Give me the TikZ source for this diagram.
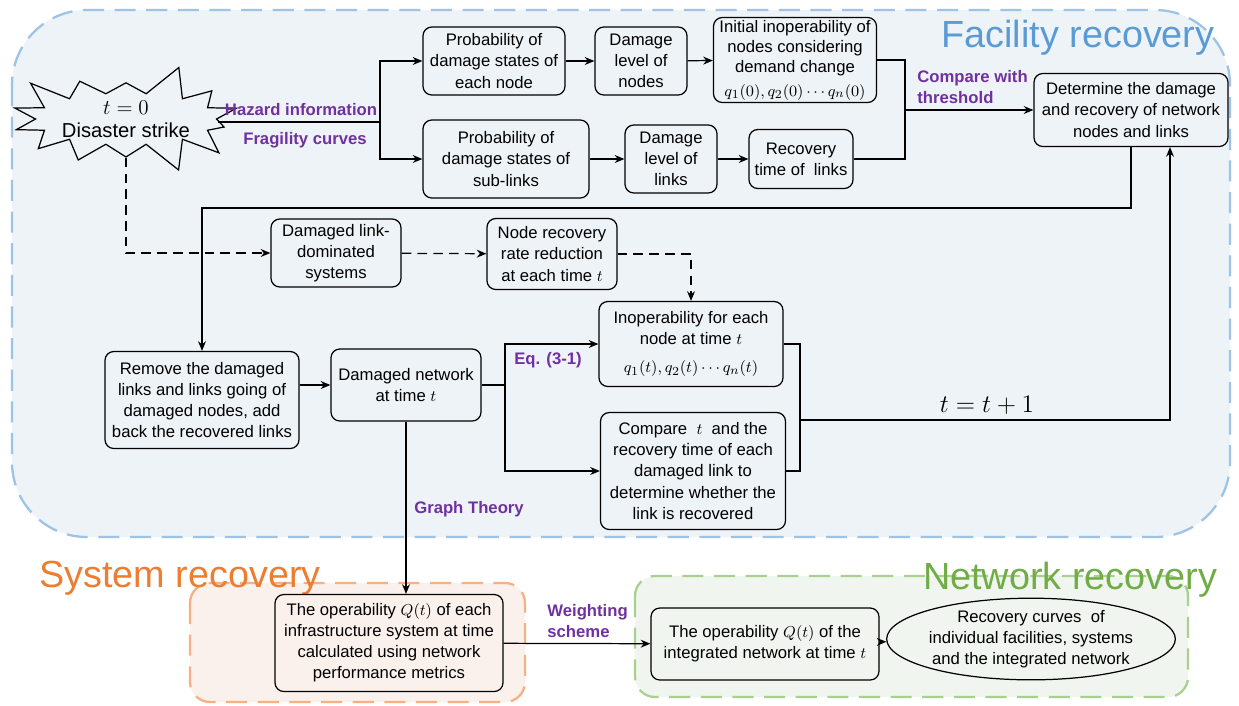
\documentclass[tikz,border=0pt]{standalone}
\usepackage{fontspec}
\setmainfont{Liberation Sans}
\usetikzlibrary{arrows.meta,shapes.symbols,shapes.geometric}
\definecolor{facfill}{HTML}{EEF3F8}
\definecolor{facline}{HTML}{9DC3E6}
\definecolor{facblue}{HTML}{5B9BD5}
\definecolor{sysfill}{HTML}{FBF1EC}
\definecolor{sysline}{HTML}{F4B183}
\definecolor{sysorange}{HTML}{ED7D31}
\definecolor{netfill}{HTML}{F1F5EF}
\definecolor{netline}{HTML}{A9D18E}
\definecolor{netgreen}{HTML}{70AD47}
\definecolor{lblpurple}{HTML}{7030A0}
\begin{document}
\begin{tikzpicture}[>={Stealth[length=5.5pt,width=4.5pt]}, line width=0.7pt,
    box/.style={draw, rounded corners=5pt, align=center, inner sep=1pt,
      font=\fontsize{9.5}{12}\selectfont},
    lbl/.style={font=\bfseries\fontsize{9.5}{11.5}\selectfont, text=lblpurple, inner sep=1pt},
    region/.style={dash pattern=on 12pt off 6pt, line width=1.3pt},
    title/.style={font=\fontsize{21.5}{24}\selectfont, inner sep=0pt},
    dashflow/.style={dash pattern=on 5.5pt off 3.5pt}]
    \useasboundingbox (0,0) rectangle (24.78,-14.10);

    % Regions
    \draw[region, draw=facline, fill=facfill, rounded corners=1.5cm] (0.24,-0.20) rectangle (24.60,-10.74);
    \draw[region, draw=sysline, fill=sysfill, rounded corners=0.4cm] (3.80,-11.66) rectangle (10.50,-14.04);
    \draw[region, draw=netline, fill=netfill, rounded corners=0.4cm] (12.70,-11.52) rectangle (23.76,-13.94);
    \node[title, text=facblue] (factitle) at (21.56,-0.76) {Facility recovery};
    \node[title, text=sysorange] (systitle) at (3.60,-11.56) {System recovery};
    \node[title, text=netgreen] (nettitle) at (21.40,-11.60) {Network recovery};

    % Disaster and first fork
    \node[starburst, draw, starburst points=14, starburst point height=0.65cm, random starburst=3,
      minimum width=4.5cm, minimum height=1.95cm, inner sep=0pt, align=center,
      font=\fontsize{11.5}{13}\selectfont] (strike) at (2.52,-2.38) {{\large$t=0$}\\Disaster strike};
    \node[box, minimum width=2.84cm, minimum height=1.36cm] (P1) at (9.88,-1.22) {Probability of\\damage states of\\each node};
    \node[box, minimum width=1.84cm, minimum height=1.36cm] (D1) at (12.82,-1.22) {Damage\\level of\\nodes};
    \node[box, minimum width=3.26cm, minimum height=1.70cm, font=\fontsize{9.5}{11.5}\selectfont] (I1) at (15.90,-1.20) {Initial inoperability of\\nodes considering\\demand change\\[2pt]$q_1(0),q_2(0)\cdots q_n(0)$};
    \node[box, minimum width=3.32cm, minimum height=1.56cm] (P2) at (10.12,-3.18) {Probability of\\damage states of\\sub-links};
    \node[box, minimum width=1.84cm, minimum height=1.36cm] (D2) at (13.42,-3.18) {Damage\\level of\\links};
    \node[box, minimum width=2.08cm, minimum height=1.18cm] (R2) at (16.02,-3.18) {Recovery\\time of\ \ links};
    \node[box, minimum width=3.88cm, minimum height=1.46cm] (Det) at (22.62,-2.20) {Determine the damage\\and recovery of network\\nodes and links};

    \coordinate (fork1) at (7.60,-2.44);
    \draw (strike.east |- fork1) -- (fork1);
    \draw[->] (fork1) |- (P1.west);
    \draw[->] (fork1) |- (P2.west);
    \node[lbl] (lblhaz) at (6.02,-2.20) {Hazard information};
    \node[lbl] (lblfrag) at (6.10,-2.80) {Fragility curves};
    \draw[->] (P1) -- (D1);
    \draw[->] (D1) -- (I1);
    \draw[->] (P2) -- (D2);
    \draw[->] (D2) -- (R2);

    \coordinate (merge1) at (18.10,-2.20);
    \draw (I1.east) -| (merge1);
    \draw (R2.east) -| (merge1);
    \draw[->] (merge1) -- (Det.west);
    \node[lbl, align=left, anchor=west] (lblcmp) at (18.30,-1.74) {Compare with\\threshold};

    % Time loop
    \node[box, minimum width=2.60cm, minimum height=1.36cm] (DLD) at (6.72,-5.06) {Damaged link-\\dominated\\systems};
    \node[box, minimum width=2.60cm, minimum height=1.42cm] (NRR) at (11.04,-5.08) {Node recovery\\rate reduction\\at each time $t$};
    \node[box, minimum width=3.88cm, minimum height=1.94cm] (Rem) at (4.04,-8.00) {Remove the damaged\\links and links going of\\damaged nodes, add\\back the recovered links};
    \node[box, minimum width=3.00cm, minimum height=1.44cm] (DN) at (8.12,-7.70) {Damaged network\\at time $t$};
    \node[box, minimum width=3.68cm, minimum height=1.70cm] (Inop) at (13.82,-6.88) {Inoperability for each\\node at time $t$\\[4pt]$q_1(t),q_2(t)\cdots q_n(t)$};
    \node[box, minimum width=3.70cm, minimum height=2.34cm] (Cmp) at (13.86,-9.42) {Compare\ \ $t$\ \ and the\\recovery time of each\\damaged link to\\determine whether the\\link is recovered};

    \coordinate (back) at (4.04,-4.16);
    \draw[->] (Det.south) |- (back) -- (Rem.north);
    \draw[dashflow, ->] (strike.south) |- (DLD.west);
    \draw[dashflow, ->] (DLD) -- (NRR);
    \draw[dashflow, ->] (NRR.east) -| (Inop.north);
    \draw[->] (Rem.east |- DN.west) -- (DN.west);

    \coordinate (fork2) at (10.10,-7.70);
    \draw (DN.east) -- (fork2);
    \draw[->] (fork2) |- (Inop.west);
    \draw[->] (fork2) |- (Cmp.west);
    \node[lbl] (lbleq) at (10.96,-7.20) {Eq. (3-1)};

    \coordinate (merge2) at (16.00,-8.40);
    \coordinate (up) at (23.40,-8.40);
    \draw (Inop.east) -| (merge2);
    \draw (Cmp.east) -| (merge2);
    \draw[->] (merge2) -- (up) -- (up |- Det.south);
    \node[font=\fontsize{14}{16}\selectfont] (lblstep) at (19.74,-8.10) {$t=t+1$};

    % System and network level
    \node[box, minimum width=4.56cm, minimum height=1.94cm] (SysQ) at (7.78,-12.86) {The operability\ $Q(t)$\ of each\\infrastructure system at time\\calculated using network\\performance metrics};
    \node[box, minimum width=4.56cm, minimum height=1.44cm] (NetQ) at (15.30,-12.88) {The operability $Q(t)$ of the\\integrated network at time $t$};
    \node[ellipse, draw, minimum width=4.46cm, minimum height=1.62cm, inner sep=0pt, align=center,
      font=\fontsize{9.5}{12}\selectfont] (Curves) at (20.62,-12.78) {Recovery curves\ \ of\\individual facilities, systems\\and the integrated network};

    \draw[->] (DN.south) -- (DN.south |- SysQ.north);
    \node[lbl] (lblgraph) at (9.38,-10.18) {Graph Theory};
    \draw[->] (SysQ) -- (NetQ);
    \node[lbl, align=left, anchor=west] (lblweight) at (10.90,-12.42) {Weighting\\scheme};
    \draw[->] (NetQ) -- (Curves);
\end{tikzpicture}
\end{document}
